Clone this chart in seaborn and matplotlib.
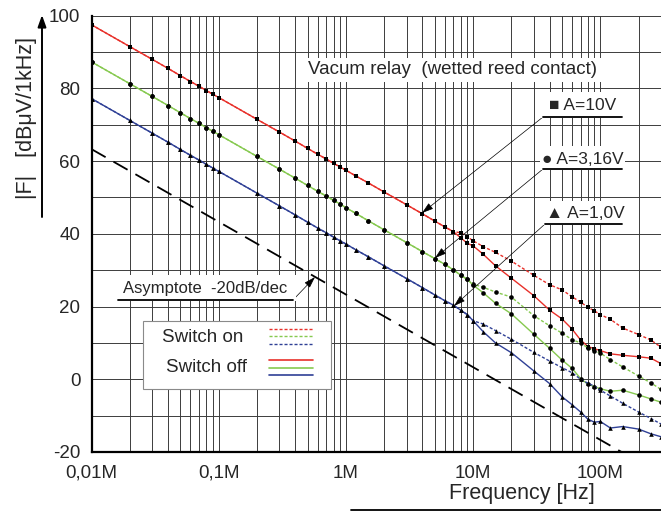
import numpy as np
import pandas as pd
import matplotlib
matplotlib.use("Agg")
import matplotlib.pyplot as plt
import seaborn as sns
from matplotlib.lines import Line2D
from matplotlib.patches import Rectangle

# measurement frequencies [MHz]
freq_mhz = [0.01, 0.02, 0.03, 0.04, 0.05, 0.06, 0.07, 0.08, 0.09,
            0.1, 0.2, 0.3, 0.4, 0.5, 0.6, 0.7, 0.8, 0.9,
            1, 1.2, 1.5, 2, 3, 4, 5, 6, 7,
            8, 9, 10, 12, 15, 20, 30, 40, 50, 60, 70, 80, 90,
            100, 120, 150, 200, 250, 300]

# A = 10 V (squares)
red_low = [97.5, 91.5, 88.0, 85.5, 83.5, 81.9, 80.6, 79.4, 78.4,
           77.5, 71.5, 68.0, 65.5, 63.5, 61.9, 60.6, 59.4, 58.4,
           57.5, 55.9, 54.0, 51.5, 48.0, 45.5, 43.5, 41.9, 40.6]
red_on_high = [40.3, 39.2, 38.1, 36.5, 34.9, 32.5, 28.6, 26.0, 24.6, 22.7, 21.2, 19.8, 18.8,
               17.8, 16.5, 14.1, 12.3, 10.8, 8.8]
red_off_high = [38.9, 37.4, 36.7, 34.4, 31.2, 27.8, 23.0, 19.0, 16.6, 13.8, 10.8, 9.0, 8.4,
                7.9, 7.0, 6.6, 6.2, 5.8, 4.3]

# A = 3,16 V (circles)
green_low = [87.3, 81.3, 77.8, 75.3, 73.3, 71.7, 70.4, 69.2, 68.2,
             67.3, 61.3, 57.8, 55.3, 53.3, 51.7, 50.4, 49.2, 48.2,
             47.2, 45.6, 43.6, 41.1, 37.6, 35.1, 33.2, 31.6, 30.1]
green_on_high = [28.6, 27.5, 26.2, 25.3, 24.0, 22.6, 17.5, 14.7, 12.7, 10.9, 10.0, 8.6, 7.8,
                 7.2, 5.4, 3.4, 0.9, -1.0, -2.8]
green_off_high = [28.6, 27.5, 25.9, 23.8, 20.9, 18.0, 12.4, 8.5, 5.3, 3.0, 0.2, -1.4, -2.0,
                  -2.6, -3.3, -3.0, -4.3, -5.4, -6.3]

# A = 1,0 V (triangles)
blue_low = [77.2, 71.2, 67.7, 65.2, 63.2, 61.6, 60.3, 59.1, 58.1,
            57.2, 51.2, 47.7, 45.2, 43.2, 41.6, 40.3, 39.1, 38.1,
            37.2, 35.6, 33.7, 31.2, 27.7, 25.2, 23.2, 21.6, 20.4]
blue_on_high = [19.0, 17.8, 16.1, 15.2, 13.4, 11.0, 7.4, 5.0, 3.2, 1.8, 0.0, -1.1, -1.9,
                -3.0, -4.6, -6.6, -9.0, -10.8, -12.3]
blue_off_high = [19.0, 17.8, 16.1, 13.1, 10.0, 7.3, 2.3, -1.2, -4.8, -7.0, -9.0, -11.0, -11.8,
                 -11.6, -13.4, -13.0, -13.7, -15.0, -15.8]

# -20 dB/dec asymptote
asym_freq_mhz = [0.01, 300]
asym_db = [63.3, -26.2]

x_tick_mhz = [0.01, 0.1, 1, 10, 100]
x_tick_labels = ["0,01M", "0,1M", "1M", "10M", "100M"]
y_ticks = [-20, 0, 20, 40, 60, 80, 100]

RED, GREEN, BLUE = "#e8302a", "#86c94f", "#2f4096"
W, H = 661, 512


def P(x, y):
    # pixel position (from top left) -> figure fraction
    return (x / W, 1 - y / H)


rows = []
series = [
    ("red", "on", red_low + red_on_high, "s"),
    ("red", "off", red_low + red_off_high, "s"),
    ("green", "on", green_low + green_on_high, "o"),
    ("green", "off", green_low + green_off_high, "o"),
    ("blue", "on", blue_low + blue_on_high, "^"),
    ("blue", "off", blue_low + blue_off_high, "^"),
]
for name, state, vals, mk in series:
    for f, v in zip(freq_mhz, vals):
        rows.append({"curve": name, "state": state, "freq": f * 1e6, "level": v, "marker": mk})
df = pd.DataFrame(rows)

sns.set_style("white")
plt.rcParams["font.family"] = ["Liberation Sans", "DejaVu Sans"]
plt.rcParams["axes.unicode_minus"] = False

fig = plt.figure(figsize=(W / 100, H / 100), dpi=100)
ax = fig.add_axes([91.5 / W, 1 - 452 / H, (W - 91.5) / W, (452 - 15.7) / H])
ax.set_xscale("log")
ax.set_xlim(1e4, 3e8)
ax.set_ylim(-20, 100)

colors = {"red": RED, "green": GREEN, "blue": BLUE}
styles = {"on": (0, (2.2, 1.4)), "off": "-"}
for (name, state), sub in df.groupby(["curve", "state"], sort=False):
    sns.lineplot(data=sub, x="freq", y="level", ax=ax, color=colors[name],
                 linestyle=styles[state], lw=1.0, marker=sub["marker"].iloc[0],
                 markersize=3.3, markerfacecolor="black", markeredgecolor="black",
                 markeredgewidth=0, errorbar=None, sort=False, legend=False, zorder=3)

sns.lineplot(x=np.array(asym_freq_mhz) * 1e6, y=asym_db, ax=ax, color="black",
             lw=1.3, linestyle=(0, (9, 5)), errorbar=None, legend=False, zorder=3)

# grid
minor_x = [m * 10.0 ** e for e in range(4, 9) for m in range(2, 10)]
ax.set_xticks([t * 1e6 for t in x_tick_mhz])
ax.set_xticks([v for v in minor_x if v < 3e8], minor=True)
ax.set_xticklabels(x_tick_labels, fontsize=13.5)
ax.xaxis.set_minor_formatter(matplotlib.ticker.NullFormatter())
ax.set_yticks(y_ticks)
ax.set_yticks(list(range(-20, 101, 10)), minor=True)
ax.set_yticklabels([str(v) for v in y_ticks], fontsize=13.5)
ax.grid(which="both", axis="x", color="#3c3c3c", lw=0.7)
ax.grid(which="both", axis="y", color="#3c3c3c", lw=0.7)
ax.tick_params(axis="x", which="major", length=4, width=1, pad=5, direction="out")
ax.tick_params(axis="x", which="minor", length=0)
ax.tick_params(axis="y", which="both", length=5, width=1, pad=3, direction="out")
ax.set_xlabel("")
ax.set_ylabel("")
for s in ["top", "right"]:
    ax.spines[s].set_visible(False)
for s in ["left", "bottom"]:
    ax.spines[s].set_color("black")
    ax.spines[s].set_linewidth(1.6)


def hline(x0, x1, y, lw=1.3, color="black", ls="-", z=6):
    fig.add_artist(Line2D([x0 / W, x1 / W], [1 - y / H, 1 - y / H], transform=fig.transFigure,
                          color=color, lw=lw, linestyle=ls, zorder=z))


def arrow(start, tip):
    ax.annotate("", xy=P(*tip), xytext=P(*start), xycoords="figure fraction",
                textcoords="figure fraction", annotation_clip=False,
                arrowprops=dict(arrowstyle="-|>,head_length=0.7,head_width=0.22",
                                color="black", lw=0.5, shrinkA=0, shrinkB=0), zorder=7)


white = dict(fc="white", ec="none", pad=2.5)

# y label with arrow
fig.text(*P(27, 118), "|F|   [dBμV/1kHz]", rotation=90, ha="center", va="center", fontsize=15.5)
ax.annotate("", xy=P(42, 15), xytext=P(42, 217), xycoords="figure fraction",
            textcoords="figure fraction", annotation_clip=False,
            arrowprops=dict(arrowstyle="-|>,head_length=0.7,head_width=0.25",
                            color="black", lw=1.4, shrinkA=0, shrinkB=0))

# x label
fig.text(*P(522, 494), "Frequency [Hz]", ha="center", va="center", fontsize=15.5)
hline(351, 661, 510)

# title
fig.text(*P(453, 70), "Vacum relay  (wetted reed contact)", ha="center", va="center",
         fontsize=13.5, bbox=white, zorder=6)

# amplitude labels
fig.add_artist(Rectangle(P(540, 118), 85 / W, 26 / H, transform=fig.transFigure,
                         fc="white", ec="none", zorder=5))
fig.text(*P(583, 106), "■ A=10V", ha="center", va="center", fontsize=12.5, zorder=6)
hline(543, 622, 117)
arrow((543, 117), (422, 213))

fig.add_artist(Rectangle(P(540, 170), 85 / W, 24 / H, transform=fig.transFigure,
                         fc="white", ec="none", zorder=5))
fig.text(*P(583, 160), "● A=3,16V", ha="center", va="center", fontsize=12.5, zorder=6)
hline(543, 622, 169)
arrow((543, 169), (435, 258))

fig.add_artist(Rectangle(P(542, 225), 83 / W, 24 / H, transform=fig.transFigure,
                         fc="white", ec="none", zorder=5))
fig.text(*P(585, 214), "▲ A=1,0V", ha="center", va="center", fontsize=12.5, zorder=6)
hline(545, 622, 224)
arrow((545, 224), (454, 306))

# asymptote label
fig.add_artist(Rectangle(P(116, 301), 180 / W, 26 / H, transform=fig.transFigure,
                         fc="white", ec="none", zorder=5))
fig.text(*P(205, 289), "Asymptote  -20dB/dec", ha="center", va="center", fontsize=12, zorder=6)
hline(118, 293, 300)
arrow((293, 300), (315, 277))

# legend box
fig.add_artist(Rectangle(P(143, 389), (331 - 143) / W, (389 - 321) / H, transform=fig.transFigure,
                         fc="white", ec="#8a8a8a", lw=0.8, zorder=5))
fig.text(*P(203, 338), "Switch on", ha="center", va="center", fontsize=13.5, zorder=6)
fig.text(*P(206, 368), "Switch off", ha="center", va="center", fontsize=13.5, zorder=6)
for y, c in zip([329, 336, 344], [RED, GREEN, BLUE]):
    hline(269, 313, y, lw=1.0, color=c, ls=(0, (2.2, 1.4)))
for y, c in zip([360, 368, 375], [RED, GREEN, BLUE]):
    hline(269, 313, y, lw=1.2, color=c)

fig.savefig("out.png", dpi=100)
